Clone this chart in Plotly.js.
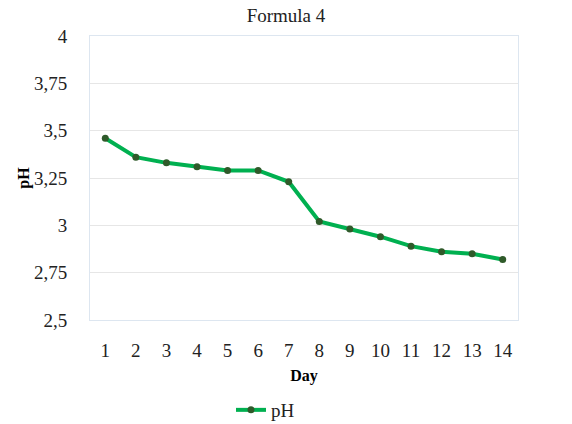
<!DOCTYPE html>
<html>
<head>
<meta charset="utf-8">
<script src="https://cdn.plot.ly/plotly-3.0.1.min.js"></script>
<style>html,body{margin:0;padding:0;background:#fff;}#chart{width:572px;height:424px;}</style>
</head>
<body>
<div id="chart"></div>
<script>
const days = ['1','2','3','4','5','6','7','8','9','10','11','12','13','14'];
const phValues = [3.46, 3.36, 3.33, 3.31, 3.29, 3.29, 3.23, 3.02, 2.98, 2.94, 2.89, 2.86, 2.85, 2.82];
const yTickVals = [2.5, 2.75, 3, 3.25, 3.5, 3.75, 4];
const yTickText = ['2,5', '2,75', '3', '3,25', '3,5', '3,75', '4'];

const trace = {
  x: days, y: phValues, type: 'scatter', mode: 'lines+markers', name: 'pH',
  line: {color: '#00b050', width: 4},
  marker: {color: '#2f5a2a', size: 7}
};
const serif = 'Liberation Serif';
const layout = {
  width: 572, height: 424,
  margin: {l: 90, r: 54, t: 36, b: 104},
  paper_bgcolor: '#fff', plot_bgcolor: '#fff',
  font: {family: serif, color: '#000'},
  title: {text: 'Formula 4', font: {family: serif, size: 19, color: '#222'}, x: 0.5, xanchor: 'center', y: 0.963, yanchor: 'middle'},
  xaxis: {
    type: 'category', range: [-0.5, 13.5], automargin: false,
    showgrid: false, zeroline: false,
    showline: true, linecolor: '#dde6f0', linewidth: 1, mirror: true,
    ticks: '', tickfont: {family: serif, size: 19, color: '#222'},
    ticklabelstandoff: 13,
    title: {text: '<b>Day</b>', font: {family: serif, size: 16, color: '#000'}, standoff: 10}
  },
  yaxis: {
    range: [2.5, 4], tickvals: yTickVals, ticktext: yTickText, automargin: false,
    showgrid: true, gridcolor: '#e6e6e6', gridwidth: 1, zeroline: false,
    showline: true, linecolor: '#dde6f0', linewidth: 1, mirror: true,
    ticks: '', tickfont: {family: serif, size: 19, color: '#222'},
    ticklabelstandoff: 18,
    title: {text: '<b>pH</b>', font: {family: serif, size: 16, color: '#000'}, standoff: 0}
  },
  showlegend: true,
  legend: {orientation: 'h', x: 0.41, xref: 'paper', xanchor: 'center', yref: 'container', y: 0.033, yanchor: 'middle',
           font: {family: serif, size: 19, color: '#222'}}
};
Plotly.newPlot('chart', [trace], layout, {displayModeBar: false, staticPlot: true});
</script>
</body>
</html>
